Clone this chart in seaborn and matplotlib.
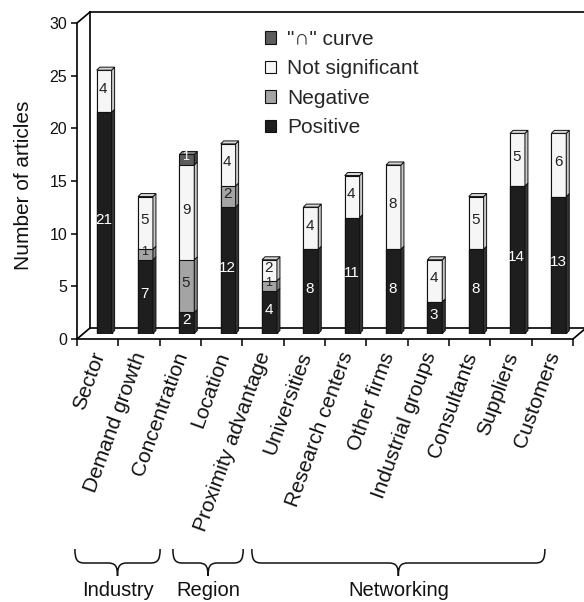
import numpy as np
import pandas as pd
import matplotlib
matplotlib.use("Agg")
import matplotlib.pyplot as plt
import matplotlib.transforms as mtransforms
import seaborn as sns
from matplotlib.patches import Polygon, Patch, PathPatch
from matplotlib.path import Path
from matplotlib.lines import Line2D

# ---------------- data ----------------
categories = ["Sector", "Demand growth", "Concentration", "Location",
              "Proximity advantage", "Universities", "Research centers",
              "Other firms", "Industrial groups", "Consultants",
              "Suppliers", "Customers"]
positive = [21, 7, 2, 12, 4, 8, 11, 8, 3, 8, 14, 13]
negative = [0, 1, 5, 2, 1, 0, 0, 0, 0, 0, 0, 0]
not_significant = [4, 5, 9, 4, 2, 4, 4, 8, 4, 5, 5, 6]
n_curve = [0, 0, 1, 0, 0, 0, 0, 0, 0, 0, 0, 0]
series_names = ['"\u2229" curve', "Not significant", "Negative", "Positive"]
groups = ["Industry", "Region", "Networking"]
yticks = [0, 5, 10, 15, 20, 25, 30]

# ---------------- style ----------------
sns.set_theme(style="white")
plt.rcParams["font.family"] = ["Liberation Sans", "DejaVu Sans"]

face = {"Positive": "#1e1e1e", "Negative": "#a4a4a4",
        "Not significant": "#f6f6f6", series_names[0]: "#5c5c5c"}
side = {"Positive": "#353535", "Negative": "#8a8a8a",
        "Not significant": "#c9c9c9", series_names[0]: "#474747"}
cap = {"Positive": "#555555", "Negative": "#bdbdbd",
       "Not significant": "#d6d6d6", series_names[0]: "#7d7d7d"}
txtcol = {"Positive": "white", "Negative": "#222222",
          "Not significant": "#222222", series_names[0]: "white"}
EDGE = "#111111"

W, H = 584, 602
fig = plt.figure(figsize=(W / 100, H / 100), dpi=100)


def rect(x0, ytop, w, h):
    return [x0 / W, 1 - (ytop + h) / H, w / W, h / H]


FX0, FY0, FX1, FY1 = 77, 23, 573, 339
DX, DY = 13, 11
PW, PH = FX1 - FX0, FY1 - FY0

ax_back = fig.add_axes(rect(FX0 + DX, FY0 - DY, PW, PH))
ax = fig.add_axes(rect(FX0, FY0, PW, PH))
ax_bar = fig.add_axes(rect(FX0 + DX / 2, FY0 - DY / 2, PW, PH))

for a in (ax_back, ax, ax_bar):
    a.set_xlim(-0.5, len(categories) - 0.5)
    a.set_ylim(0, 30)
    a.patch.set_visible(False)

# back wall
for s in ("left", "top", "bottom"):
    ax_back.spines[s].set_visible(True)
    ax_back.spines[s].set_color("black")
    ax_back.spines[s].set_linewidth(1.2)
ax_back.spines["right"].set_visible(False)
ax_back.set_xticks([])
ax_back.set_yticks([])

# front axes
for s in ("top", "right"):
    ax.spines[s].set_visible(False)
for s in ("left", "bottom"):
    ax.spines[s].set_color("black")
    ax.spines[s].set_linewidth(1.2)
ax.set_yticks(yticks)
ax.set_yticklabels([str(v) for v in yticks], fontsize=11.5, color="#111111")
ax.set_xticks(np.arange(-0.5, len(categories), 1.0))
ax.set_xticklabels([])
ax.tick_params(axis="y", direction="out", length=4, width=1.1, pad=3, left=True, color="black")
ax.tick_params(axis="x", direction="out", length=5, width=1.1, bottom=True, color="black")
ax.set_ylabel("Number of articles", fontsize=15, color="#111111")
ax.yaxis.set_label_coords(-0.089, 0.485)

# depth diagonals (front corners -> back corners)
for (x0, y0) in [(FX0, FY0), (FX0, FY1), (FX1, FY1)]:
    fig.add_artist(Line2D([x0 / W, (x0 + DX) / W], [1 - y0 / H, 1 - (y0 - DY) / H],
                          transform=fig.transFigure, color="black", lw=1.2))

# ---------------- bars ----------------
df = pd.DataFrame({"category": categories, "Positive": positive,
                   "Negative": negative, "Not significant": not_significant,
                   series_names[0]: n_curve})
order = ["Positive", "Negative", "Not significant", series_names[0]]
cum = df[order].cumsum(axis=1)
df_cum = pd.concat([df[["category"]], cum.add_prefix("cum_")], axis=1)

BW = 0.36
for name in order[::-1]:
    sns.barplot(data=df_cum, x="category", y="cum_" + name, color=face[name],
                saturation=1, width=BW, edgecolor=EDGE, linewidth=0.8,
                ax=ax_bar, order=categories)
ax_bar.set_xlim(-0.5, len(categories) - 0.5)
ax_bar.set_ylim(0, 30)
ax_bar.axis("off")

ddx = 3.0 / (PW / len(categories))
ddy = 3.0 / (PH / 30.0)
for i in range(len(categories)):
    bottom = 0
    top_name = None
    for name in order:
        v = df.loc[i, name]
        if v <= 0:
            continue
        xr = i + BW / 2
        ax_bar.add_patch(Polygon([(xr, bottom), (xr + ddx, bottom + ddy),
                                  (xr + ddx, bottom + v + ddy), (xr, bottom + v)],
                                 closed=True, facecolor=side[name], edgecolor=EDGE,
                                 lw=0.7, zorder=3))
        fs = 11 if v > 1 else 9
        ax_bar.text(i - 0.02, bottom + v / 2 + 0.25, str(v), ha="center", va="center",
                    fontsize=fs, color=txtcol[name], zorder=5)
        bottom += v
        top_name = name
    xl, xr = i - BW / 2, i + BW / 2
    ax_bar.add_patch(Polygon([(xl, bottom), (xl + ddx, bottom + ddy),
                              (xr + ddx, bottom + ddy), (xr, bottom)],
                             closed=True, facecolor=cap[top_name], edgecolor=EDGE,
                             lw=0.7, zorder=4))

# category labels
for i, c in enumerate(categories):
    ax.text(i + 0.05, -1.3, c, rotation=70, ha="right", va="center",
            rotation_mode="anchor", fontsize=15, color="#111111", clip_on=False)

# legend
handles = [Patch(facecolor=face[n], edgecolor=EDGE, lw=0.8) for n in series_names]
ax_bar.legend(handles, series_names, loc="upper left",
              bbox_to_anchor=(265 / W, 1 - 30 / H), bbox_transform=fig.transFigure,
              frameon=False, fontsize=15, handlelength=0.55, handleheight=0.55,
              handletextpad=0.5, labelspacing=0.5, borderpad=0, borderaxespad=0)

# group braces
blend = mtransforms.blended_transform_factory(ax.transData, fig.transFigure)
brace_spans = [(-0.55, 1.51), (1.82, 3.52), (3.73, 10.82)]
r = 0.24
yt, ym, yb = 1 - 549 / H, 1 - 563 / H, 1 - 576 / H
for g, (xa, xb) in zip(groups, brace_spans):
    xc = (xa + xb) / 2
    verts = [(xa, yt), (xa, ym + (yt - ym) * 0.2), (xa + 0.06, ym), (xa + r, ym),
             (xc - r, ym),
             (xc - 0.06, ym), (xc, ym - (ym - yb) * 0.2), (xc, yb),
             (xc, ym - (ym - yb) * 0.2), (xc + 0.06, ym), (xc + r, ym),
             (xb - r, ym),
             (xb - 0.06, ym), (xb, ym + (yt - ym) * 0.2), (xb, yt)]
    codes = [Path.MOVETO, Path.CURVE4, Path.CURVE4, Path.CURVE4,
             Path.LINETO,
             Path.CURVE4, Path.CURVE4, Path.CURVE4,
             Path.CURVE4, Path.CURVE4, Path.CURVE4,
             Path.LINETO,
             Path.CURVE4, Path.CURVE4, Path.CURVE4]
    fig.add_artist(PathPatch(Path(verts, codes), transform=blend, facecolor="none",
                             edgecolor="#111111", lw=1.1))
    t = fig.text(xc, 1 - 590 / H, g, ha="center", va="center",
                 fontsize=14.5, color="#111111")
    t.set_transform(blend)

fig.savefig("out.png", dpi=100)
